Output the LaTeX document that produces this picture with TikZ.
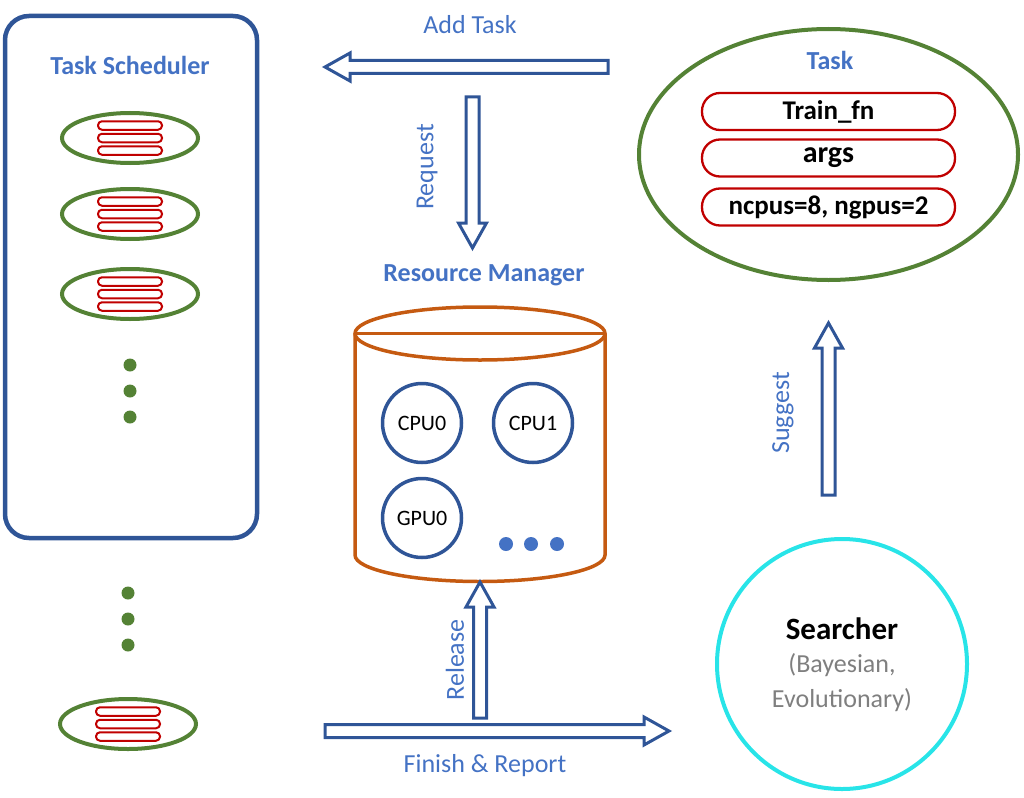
\documentclass[tikz,border=0pt]{standalone}
\usepackage{fontspec}
\setmainfont{Carlito}
\usetikzlibrary{shapes.geometric}

\definecolor{frameblue}{RGB}{47,85,151}
\definecolor{labelblue}{RGB}{68,114,196}
\definecolor{taskgreen}{RGB}{84,130,53}
\definecolor{barred}{RGB}{192,0,0}
\definecolor{cylorange}{RGB}{197,90,17}
\definecolor{searchcyan}{RGB}{40,228,232}
\definecolor{graytext}{RGB}{127,127,127}

\tikzset{
  title/.style={font=\fontsize{26}{30}\selectfont\bfseries, text=labelblue},
  flowlabel/.style={font=\fontsize{26}{30}\selectfont, text=labelblue},
  queueitem/.style={draw=taskgreen, ellipse, line width=4pt, minimum width=136pt, minimum height=50pt, inner sep=0pt},
  queuebar/.style={draw=barred, line width=2pt, rounded corners=4pt, minimum width=64pt, minimum height=8.5pt, inner sep=0pt},
  field/.style={draw=barred, line width=2.3pt, rounded corners=18pt, minimum width=253pt, minimum height=37pt, inner sep=0pt, font=\fontsize{27}{30}\selectfont\bfseries},
  unit/.style={draw=frameblue, circle, line width=3.5pt, minimum size=79pt, inner sep=0pt, font=\fontsize{22}{24}\selectfont},
  hollow/.style={draw=frameblue, fill=white, line width=3pt, line join=miter},
  pics/blockarrow/.style={code={
    \draw[hollow] (0,-6.5) -- (#1-25,-6.5) -- (#1-25,-14) -- (#1,0) -- (#1-25,14) -- (#1-25,6.5) -- (0,6.5) -- cycle;
  }}
}

\begin{document}
\begin{tikzpicture}[x=1pt, y=-1pt]
  \useasboundingbox (0,0) rectangle (1024,797);

  % task scheduler
  \node[draw=frameblue, line width=4.5pt, rounded corners=24pt, minimum width=252pt, minimum height=522pt] (sched) at (131,277) {};
  \node[title] (schedtitle) at (130,65) {Task Scheduler};

  \node[queueitem] (q1) at (130,138) {};
  \node[queuebar] (q1a) at ([yshift=12.5pt]q1) {};
  \node[queuebar] (q1b) at (q1) {};
  \node[queuebar] (q1c) at ([yshift=-12.5pt]q1) {};
  \node[queueitem] (q2) at (130,214) {};
  \node[queuebar] (q2a) at ([yshift=12.5pt]q2) {};
  \node[queuebar] (q2b) at (q2) {};
  \node[queuebar] (q2c) at ([yshift=-12.5pt]q2) {};
  \node[queueitem] (q3) at (130,294) {};
  \node[queuebar] (q3a) at ([yshift=12.5pt]q3) {};
  \node[queuebar] (q3b) at (q3) {};
  \node[queuebar] (q3c) at ([yshift=-12.5pt]q3) {};
  \node[queueitem] (q4) at (128,724) {};
  \node[queuebar] (q4a) at ([yshift=12.5pt]q4) {};
  \node[queuebar] (q4b) at (q4) {};
  \node[queuebar] (q4c) at ([yshift=-12.5pt]q4) {};

  \fill[taskgreen] (130,365) circle (6.5pt) (130,391) circle (6.5pt) (130,417) circle (6.5pt);
  \fill[taskgreen] (128,593) circle (6.5pt) (128,619) circle (6.5pt) (128,645) circle (6.5pt);

  % task
  \node[draw=taskgreen, ellipse, line width=4pt, minimum width=379pt, minimum height=251pt] (task) at (828.5,154.5) {};
  \node[title] (tasktitle) at (830,60) {Task};
  \node[field] (trainfn) at (828.5,111.5) {Train\_fn};
  \node[field, font=\fontsize{30}{34}\selectfont\bfseries] (args) at (828.5,158) {args};
  \node[field] (res) at (828.5,207) {ncpus=8, ngpus=2};

  % resource manager
  \node[title] (rmtitle) at (484,275) {Resource Manager};
  \draw[cylorange, line width=3.5pt] (480,333.5) ellipse [x radius=125pt, y radius=26.5pt];
  \draw[cylorange, line width=3.5pt] (355,333.5) -- (605,333.5);
  \draw[cylorange, line width=3.5pt] (355,333.5) -- (355,555) arc [start angle=180, end angle=360, x radius=125pt, y radius=26.5pt] -- (605,333.5);
  \node[unit] (cpu0) at (422,423) {CPU0};
  \node[unit] (cpu1) at (533,423) {CPU1};
  \node[unit] (gpu0) at (422,518) {GPU0};
  \fill[labelblue] (506,544) circle (7pt) (531,544) circle (7pt) (557,544) circle (7pt);

  % searcher
  \node[draw=searchcyan, circle, line width=4pt, minimum size=250pt] (searcher) at (842,664) {};
  \node[font=\fontsize{31}{34}\selectfont\bfseries] (srchname) at ([yshift=35pt]searcher) {Searcher};
  \node[font=\fontsize{26}{30}\selectfont, text=graytext] (srchkind1) at ([yshift=-1pt]searcher) {(Bayesian,};
  \node[font=\fontsize{26}{30}\selectfont, text=graytext] (srchkind2) at ([yshift=-36pt]searcher) {Evolutionary)};

  % flows
  \coordinate (addtail) at (608,67);
  \pic[rotate=180] at (addtail) {blockarrow=283};
  \node[flowlabel] (addlabel) at (470,25) {Add Task};
  \coordinate (reqtail) at (472.5,97);
  \pic[rotate=-90] at (reqtail) {blockarrow=151};
  \node[flowlabel, rotate=90] (reqlabel) at (427,167) {Request};
  \coordinate (reltail) at (480,718);
  \pic[rotate=90] at (reltail) {blockarrow=136};
  \node[flowlabel, rotate=90] (rellabel) at (455,660) {Release};
  \coordinate (fintail) at (325,731);
  \pic at (fintail) {blockarrow=344};
  \node[flowlabel] (finlabel) at (485,766) {Finish \& Report};
  \coordinate (sugtail) at (828.5,495);
  \pic[rotate=90] at (sugtail) {blockarrow=172};
  \node[flowlabel, rotate=90] (suglabel) at (783,413) {Suggest};
\end{tikzpicture}
\end{document}
